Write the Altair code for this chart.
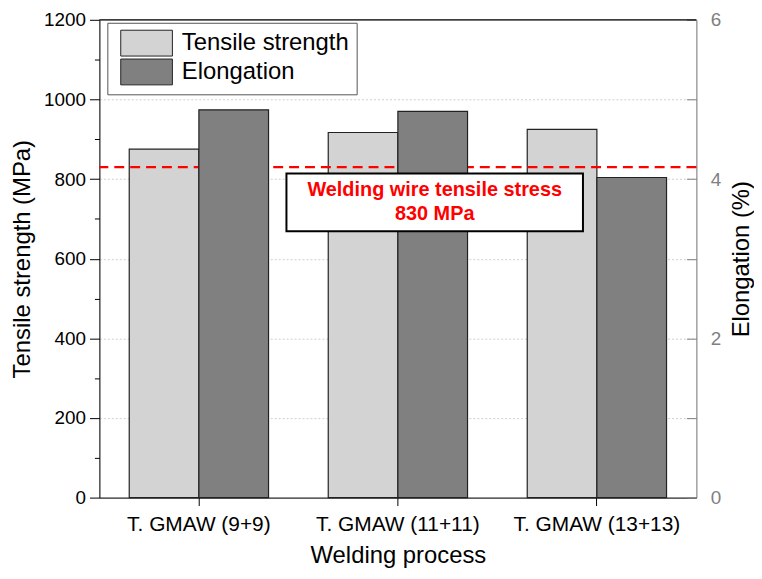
import altair as alt
import pandas as pd

# ---- data ----
categories = ["T. GMAW (9+9)", "T. GMAW (11+11)", "T. GMAW (13+13)"]
series = ["Tensile strength", "Elongation"]
tensile_mpa = [875, 917, 925]
elongation_pct = [4.87, 4.85, 4.02]
wire_stress_mpa = [830]
note_lines = "Welding wire tensile stress\n830 MPa"
# annotation box, x in category units (0..3), y in MPa
note_box_x = [0.94, 2.43]
note_box_y = [669, 814]
note_first_line = [1.685, 773]

bar_colors = ["#d3d3d3", "#808080"]
FONT = "Liberation Sans"

ts_df = pd.DataFrame({"category": categories, "series": series[0], "value": tensile_mpa})
el_df = pd.DataFrame({"category": categories, "series": series[1], "value": elongation_pct})
wire_df = pd.DataFrame({"value": wire_stress_mpa})
box_df = pd.DataFrame({"x1": [note_box_x[0]], "x2": [note_box_x[1]],
                       "y1": [note_box_y[0]], "y2": [note_box_y[1]]})
text_df = pd.DataFrame({"x": [note_first_line[0]], "y": [note_first_line[1]], "text": [note_lines]})

x_scale = alt.Scale(domain=categories, paddingInner=0.3, paddingOuter=0.15)
xoff = alt.XOffset("series:N", scale=alt.Scale(domain=series))

legend = alt.Legend(
    title=None, orient="none", legendX=8, legendY=3,
    symbolType="M-2,-1H2V1H-2Z", symbolSize=676, symbolOffset=19,
    symbolStrokeColor="#222", symbolStrokeWidth=1, symbolOpacity=1,
    labelOffset=22, labelFont=FONT, labelFontSize=24, labelColor="black", labelLimit=400,
    fillColor="white", strokeColor="#555", padding=7, rowPadding=-2,
)
color = alt.Color("series:N", scale=alt.Scale(domain=series, range=bar_colors), legend=legend)

x_axis = alt.Axis(
    title="Welding process", labelAngle=0, labelFont=FONT, labelFontSize=21,
    labelColor="black", labelPadding=8, tickSize=8, tickColor="black",
    domainColor="black", titleFont=FONT, titleFontSize=24, titleFontWeight="normal",
    titleColor="black", titlePadding=9, grid=False,
)

left_axis = alt.Axis(
    title="Tensile strength (MPa)", values=list(range(0, 1201, 100)), format="d",
    labelExpr="datum.value % 200 == 0 ? datum.label : ''",
    labelFont=FONT, labelFontSize=19, labelColor="black", labelPadding=4,
    tickSize={"condition": {"test": "datum.value % 200 === 0", "value": 10}, "value": 5},
    tickColor="black", domainColor="black",
    grid=True, gridColor="#cfcfcf", gridDash=[2, 2],
    gridOpacity={"condition": {"test": "datum.value % 200 === 0 && datum.value > 0 && datum.value < 1200", "value": 1}, "value": 0},
    titleFont=FONT, titleFontSize=24, titleFontWeight="normal", titleColor="black", titlePadding=9,
)

right_axis = alt.Axis(
    orient="right", title="Elongation (%)", values=[0, 1, 2, 3, 4, 5, 6],
    labelExpr="datum.value % 2 == 0 ? datum.label : ''",
    labelFont=FONT, labelFontSize=19, labelColor="#808080", labelPadding=24,
    tickSize={"expr": "-10"}, tickColor="#808080", domainColor="#808080", grid=False,
    titleFont=FONT, titleFontSize=24, titleFontWeight="normal", titleColor="black",
    titleAngle=270, titleBaseline="top", titlePadding=9,
)

ts_bars = alt.Chart(ts_df).mark_bar(stroke="#222", strokeWidth=1.2).encode(
    x=alt.X("category:N", scale=x_scale, sort=categories, axis=x_axis),
    xOffset=xoff,
    y=alt.Y("value:Q", scale=alt.Scale(domain=[0, 1200], nice=False), axis=left_axis),
    color=color,
)
frame_top = alt.Chart(wire_df).mark_rule(color="black", strokeWidth=1.2).encode(y=alt.datum(1200))
wire_rule = alt.Chart(wire_df).mark_rule(color="#ff0000", strokeWidth=2.5, strokeDash=[10, 6]).encode(
    y=alt.Y("value:Q")
)
ts_layer = alt.layer(ts_bars, frame_top, wire_rule)

el_bars = alt.Chart(el_df).mark_bar(stroke="#222", strokeWidth=1.2).encode(
    x=alt.X("category:N", scale=x_scale, sort=categories, axis=None),
    xOffset=xoff,
    y=alt.Y("value:Q", scale=alt.Scale(domain=[0, 6], nice=False), axis=right_axis),
    color=color,
)

ann_x = alt.Scale(domain=[0, 3], nice=False, zero=False)
ann_y = alt.Scale(domain=[0, 1200], nice=False)
box = alt.Chart(box_df).mark_rect(fill="white", stroke="black", strokeWidth=2).encode(
    x=alt.X("x1:Q", scale=ann_x, axis=None), x2="x2:Q",
    y=alt.Y("y1:Q", scale=ann_y, axis=None), y2="y2:Q",
)
note = alt.Chart(text_df).mark_text(
    lineBreak="\n", color="#ff0000", fontWeight="bold", fontSize=20, font=FONT,
    align="center", baseline="middle", lineHeight=24.5,
).encode(
    x=alt.X("x:Q", scale=ann_x, axis=None),
    y=alt.Y("y:Q", scale=ann_y, axis=None),
    text="text:N",
)
ann_layer = alt.layer(box, note)

chart = alt.layer(ts_layer, el_bars, ann_layer).resolve_scale(
    x="independent", y="independent"
).properties(
    width=601, height=481,
    autosize=alt.AutoSizeParams(type="none"),
    padding={"left": 92, "top": 10, "right": 58, "bottom": 71},
).configure_view(stroke=None).configure(font=FONT, background="white")

chart.save("out.html", embed_options={"renderer": "svg", "actions": False})
